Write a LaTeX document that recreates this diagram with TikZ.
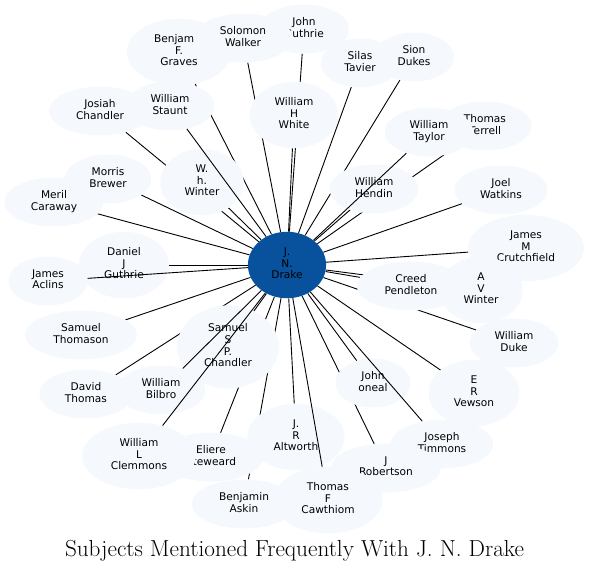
\documentclass[tikz,border=0pt]{standalone}
\usepackage{fontspec}
\newfontfamily\dejavu{DejaVu Sans}
\usetikzlibrary{shapes.geometric}
\pgfdeclarelayer{edges}
\pgfdeclarelayer{late}
\pgfsetlayers{edges,main,late}
\definecolor{nodefill}{HTML}{F5F9FE}
\definecolor{hubfill}{HTML}{08519C}
\tikzset{
  subj/.style={ellipse, fill=nodefill, inner xsep=12pt, inner ysep=0pt, align=center,
    font=\dejavu\fontsize{10.6}{11.7}\selectfont,
    execute at begin node=\strut, execute at end node=\strut},
  two/.style={minimum height=49pt},
  three/.style={minimum height=66.5pt},
  four/.style={minimum height=83pt},
  link/.style={draw=black, line width=0.9pt},
}
\begin{document}
\begin{tikzpicture}[x=1pt,y=-1pt]
\useasboundingbox (0,0) rectangle (590,571);
\node[subj,three,fill=hubfill] (drake) at (287,265) {J.\\N.\\Drake};
\node[subj,three] (graves) at (179,52) {Benjamin\\F.\\Graves};
\node[subj,two] (jguthrie) at (304,29) {John\\Guthrie};
\node[subj,two] (solomon) at (243,38) {Solomon\\Walker};
\node[subj,two] (silas) at (360,63) {Silas\\Tavier};
\node[subj,two] (sion) at (414,57) {Sion\\Dukes};
\node[subj,three] (white) at (294,115) {William\\H\\White};
\node[subj,two] (josiah) at (100,111) {Josiah\\Chandler};
\node[subj,two] (staunt) at (170,106) {William\\Staunt};
\node[subj,two] (terrell) at (485,126) {Thomas\\Terrell};
\node[subj,two] (taylor) at (429,132) {William\\Taylor};
\node[subj,three] (whwinter) at (202,182) {W.\\h.\\Winter};
\node[subj,two] (meril) at (54,202) {Meril\\Caraway};
\node[subj,two] (morris) at (108,179) {Morris\\Brewer};
\node[subj,two] (hendin) at (374,189) {William\\Hendin};
\node[subj,two] (joel) at (501,190) {Joel\\Watkins};
\node[subj,two] (aclins) at (48,281) {James\\Aclins};
\node[subj,three] (dguthrie) at (124,265) {Daniel\\J\\Guthrie};
\node[subj,three] (crutch) at (526,248) {James\\M\\Crutchfield};
\node[subj,two] (creed) at (411,286) {Creed\\Pendleton};
\node[subj,three] (avwinter) at (481,290) {A\\V\\Winter};
\node[subj,two] (sthomason) at (81,335) {Samuel\\Thomason};
\node[subj,two] (wduke) at (514,343) {William\\Duke};
\node[subj,four] (sspchandler) at (228,347) {Samuel\\S\\P.\\Chandler};
\node[subj,two] (dthomas) at (86,394) {David\\Thomas};
\node[subj,two] (bilbro) at (161,390) {William\\Bilbro};
\node[subj,two] (oneal) at (373,383) {John\\oneal};
\node[subj,three] (vewson) at (474,393) {E\\R\\Vewson};
\node[subj,two] (eliere) at (211,457) {Eliere\\Steweard};
\node[subj,three] (clemmons) at (139,456) {William\\L\\Clemmons};
\node[subj,three] (altworth) at (296,437) {J.\\R\\Altworth};
\node[subj,two] (timmons) at (442,444) {Joseph\\Timmons};
\node[subj,two] (robertson) at (386,468) {J\\Robertson};
\node[subj,two] (askin) at (244,504) {Benjamin\\Askin};
\node[subj,three] (cawthiom) at (328,500) {Thomas\\F\\Cawthiom};
\node[font=\fontsize{23.2}{27}\selectfont, anchor=base] (title) at (294.5,556) {Subjects Mentioned Frequently With J. N. Drake};
\begin{pgfonlayer}{edges}
\foreach \n in {graves,jguthrie,solomon,silas,sion,white,josiah,terrell,whwinter,meril,morris,hendin,joel,dguthrie,crutch,creed,avwinter,sthomason,wduke,sspchandler,dthomas,oneal,vewson,eliere,altworth,robertson,askin}
  \draw[link] (drake) -- (\n);
\end{pgfonlayer}
\begin{pgfonlayer}{late}
\foreach \n in {aclins,taylor,staunt,bilbro,clemmons,timmons,cawthiom}
  \draw[link] (drake) -- (\n);
\end{pgfonlayer}
\end{tikzpicture}
\end{document}
